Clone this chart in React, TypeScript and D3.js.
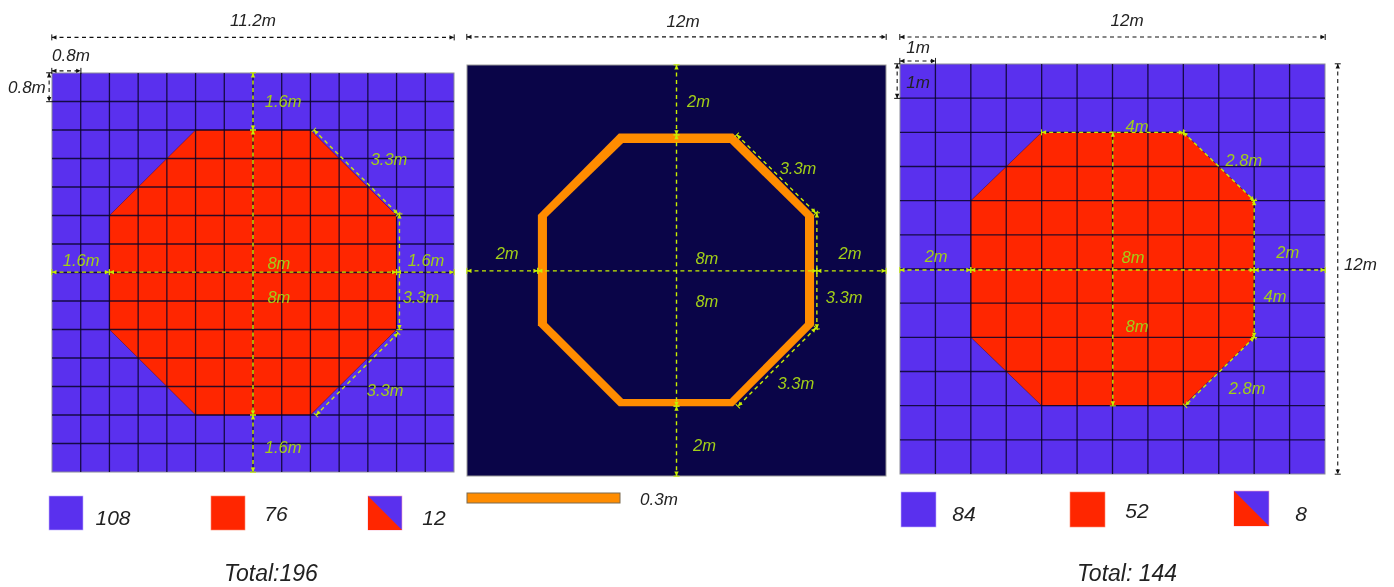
import React from "react";
import * as d3 from "d3";

type Pt = [number, number];
type Dim = [number, number, number, number];
type Label = [string, number, number];

const octagonA: Pt[] = [[4, 1.6], [7.2, 1.6], [9.6, 4], [9.6, 7.2], [7.2, 9.6], [4, 9.6], [1.6, 7.2], [1.6, 4]];
const ringOuterB: Pt[] = [[4.35, 2], [7.62, 2], [9.94, 4.38], [9.94, 7.6], [7.62, 9.96], [4.35, 9.96], [2.03, 7.6], [2.03, 4.38]];
const ringInnerB: Pt[] = [[4.47, 2.28], [7.53, 2.28], [9.68, 4.44], [9.68, 7.53], [7.53, 9.75], [4.47, 9.75], [2.29, 7.53], [2.29, 4.44]];
const octagonC: Pt[] = [[4, 2], [8, 2], [10, 4], [10, 8], [8, 10], [4, 10], [2, 8], [2, 4]];

const greenDimsA: Dim[] = [
  [5.6, 0, 5.6, 1.6], [5.6, 1.6, 5.6, 9.6], [5.6, 9.6, 5.6, 11.2],
  [0, 5.59, 1.6, 5.59], [1.6, 5.59, 9.6, 5.59], [9.6, 5.59, 11.2, 5.59],
  [7.3, 1.6, 9.64, 3.96], [9.68, 3.96, 9.68, 7.2], [9.64, 7.3, 7.36, 9.6],
];
const greenLabelsA: Label[] = [
  ["1.6m", 6.44, 0.79], ["8m", 6.32, 5.33], ["8m", 6.32, 6.29], ["1.6m", 6.44, 10.5],
  ["1.6m", 0.81, 5.25], ["1.6m", 10.42, 5.25], ["3.3m", 9.39, 2.41], ["3.3m", 10.28, 6.29], ["3.3m", 9.28, 8.9],
];
const blackDimsA: Dim[] = [[0, -1, 11.2, -1], [0, -0.06, 0.8, -0.06], [-0.08, 0, -0.08, 0.8]];
const blackLabelsA: Label[] = [["11.2m", 5.6, -1.46], ["0.8m", 0.53, -0.48], ["0.8m", -0.7, 0.42]];

const greenDimsB: Dim[] = [
  [6, 0, 6, 2.04], [6, 2.04, 6, 9.96], [6, 9.96, 6, 12],
  [0, 6.01, 2.03, 6.01], [2.03, 6.01, 10.02, 6.01], [10.02, 6.01, 12, 6.01],
  [7.73, 2.04, 9.99, 4.32], [10.02, 4.32, 10.02, 7.7], [9.99, 7.68, 7.76, 9.96],
];
const greenLabelsB: Label[] = [
  ["2m", 6.63, 1.05], ["2m", 6.8, 11.1], ["2m", 1.15, 5.48], ["2m", 10.97, 5.48], ["8m", 6.87, 5.64],
  ["8m", 6.87, 6.89], ["3.3m", 9.48, 3.0], ["3.3m", 10.8, 6.77], ["3.3m", 9.42, 9.28],
];
const blackDimsB: Dim[] = [[0, -0.82, 12, -0.82]];
const blackLabelsB: Label[] = [["12m", 6.19, -1.28]];

const greenDimsC: Dim[] = [
  [4, 2, 8, 2], [8, 2, 10, 4], [10, 4, 10, 8], [10, 8, 8.05, 10],
  [6.01, 2, 6.01, 10], [0, 6.03, 2, 6.03], [2, 6.03, 10, 6.03], [10, 6.03, 12, 6.03],
];
const greenLabelsC: Label[] = [
  ["4m", 6.69, 1.8], ["2.8m", 9.71, 2.81], ["4m", 10.59, 6.79], ["2.8m", 9.8, 9.48],
  ["8m", 6.58, 5.65], ["8m", 6.69, 7.67], ["2m", 1.02, 5.62], ["2m", 10.95, 5.5],
];
const blackDimsC: Dim[] = [[0, -0.79, 12, -0.79], [0, -0.09, 1, -0.09], [-0.08, 0, -0.08, 1], [12.36, 0, 12.36, 12]];
const blackLabelsC: Label[] = [["12m", 6.41, -1.26], ["1m", 0.51, -0.47], ["1m", 0.51, 0.53], ["12m", 13.0, 5.88]];

const legendCountsA = [108, 76, 12];
const legendCountsC = [84, 52, 8];
const totalA = "Total:196";
const totalC = "Total: 144";
const ringLegend = "0.3m";

const BLUE = "#5a30ee";
const RED = "#ff2600";
const NAVY = "#0a0548";
const ORANGE = "#ff8c00";
const DIM_GREEN = "#c8f000";
const TEXT_GREEN = "#a2cf18";
const INK = "#222";
const FONT = "'Liberation Sans', Arial, sans-serif";

function makeScales(extent: number, x0: number, x1: number, y0: number, y1: number) {
  return {
    x: d3.scaleLinear().domain([0, extent]).range([x0, x1]),
    y: d3.scaleLinear().domain([0, extent]).range([y0, y1]),
  };
}
type Scales = ReturnType<typeof makeScales>;

const pathOf = (s: Scales, pts: Pt[]) =>
  d3.line<Pt>().x((d) => s.x(d[0])).y((d) => s.y(d[1])).curve(d3.curveLinearClosed)(pts) as string;

function Dims({ s, dims, color, marker, dash, w }: { s: Scales; dims: Dim[]; color: string; marker: string; dash: string; w: number }) {
  return (
    <g>
      {dims.map((d, i) => (
        <line key={i} x1={s.x(d[0])} y1={s.y(d[1])} x2={s.x(d[2])} y2={s.y(d[3])} stroke={color} strokeWidth={w}
          strokeDasharray={dash} markerStart={`url(#${marker})`} markerEnd={`url(#${marker})`} />
      ))}
    </g>
  );
}

function Labels({ s, labels, color, size }: { s: Scales; labels: Label[]; color: string; size: number }) {
  return (
    <g>
      {labels.map((l, i) => (
        <text key={i} x={s.x(l[1])} y={s.y(l[2])} fill={color} fontSize={size} fontStyle="italic" fontFamily={FONT}
          textAnchor="middle" dominantBaseline="central">{l[0]}</text>
      ))}
    </g>
  );
}

function GridPanel({ s, cells, extent, octagon }: { s: Scales; cells: number; extent: number; octagon: Pt[] }) {
  const lines = d3.range(cells + 1).map((i) => (i * extent) / cells);
  return (
    <g>
      <rect x={s.x(0)} y={s.y(0)} width={s.x(extent) - s.x(0)} height={s.y(extent) - s.y(0)} fill={BLUE} stroke="#8a8a9a" strokeWidth={1} />
      <path d={pathOf(s, octagon)} fill={RED} stroke="#1a0418" strokeOpacity={0.6} strokeWidth={0.6} />
      {lines.slice(1, -1).map((v) => (
        <g key={v}>
          <line x1={s.x(v)} x2={s.x(v)} y1={s.y(0)} y2={s.y(extent)} stroke="#0a0428" strokeWidth={1.3} opacity={0.85} />
          <line x1={s.x(0)} x2={s.x(extent)} y1={s.y(v)} y2={s.y(v)} stroke="#0a0428" strokeWidth={1.3} opacity={0.85} />
        </g>
      ))}
    </g>
  );
}

function Swatch({ x, y, size, kind }: { x: number; y: number; size: number; kind: number }) {
  if (kind === 2) {
    return (
      <g>
        <rect x={x} y={y} width={size} height={size} fill={BLUE} stroke="#f4a0c8" strokeWidth={0.6} />
        <path d={`M${x},${y}L${x + size},${y + size}L${x},${y + size}Z`} fill={RED} />
      </g>
    );
  }
  return <rect x={x} y={y} width={size} height={size} fill={kind === 0 ? BLUE : RED} stroke={kind === 0 ? "#c0b0ff" : "#ff8a70"} strokeWidth={0.6} />;
}

function Legend({ counts, boxes, texts }: { counts: number[]; boxes: [number, number, number][]; texts: Pt[] }) {
  return (
    <g>
      {counts.map((c, i) => (
        <g key={i}>
          <Swatch x={boxes[i][0]} y={boxes[i][1]} size={boxes[i][2]} kind={i} />
          <text x={texts[i][0]} y={texts[i][1]} fill={INK} fontSize={21} fontStyle="italic" fontFamily={FONT}
            textAnchor="middle" dominantBaseline="central">{c}</text>
        </g>
      ))}
    </g>
  );
}

function Arrow({ id, color }: { id: string; color: string }) {
  return (
    <marker id={id} viewBox="-0.5 -0.5 7 7" refX="5.5" refY="3" markerWidth="7" markerHeight="7" markerUnits="userSpaceOnUse" orient="auto-start-reverse">
      <path d="M5.7,0V6" stroke={color} strokeWidth={1} fill="none" />
      <path d="M5.5,3L1,0.8V5.2Z" fill={color} />
    </marker>
  );
}

export default function App() {
  const a = makeScales(11.2, 52, 454, 73, 472);
  const b = makeScales(12, 467, 886, 65, 476);
  const c = makeScales(12, 900, 1325, 64, 474);
  const GD = "4 3.5";
  const LS = 16.5;
  const total = (t: string, x: number) => (
    <text x={x} y={573} fill={INK} fontSize={23} fontStyle="italic" fontFamily={FONT} textAnchor="middle" dominantBaseline="central">{t}</text>
  );
  return (
    <svg width={1394} height={587} style={{ position: "absolute", left: 0, top: 0, background: "#fff" }}>
      <defs>
        <Arrow id="ga" color={DIM_GREEN} />
        <Arrow id="ka" color="#111" />
        <filter id="soft" x="0" y="0" width="100%" height="100%" colorInterpolationFilters="sRGB"><feGaussianBlur stdDeviation="0.55" /></filter>
      </defs>
      <g filter="url(#soft)">
        <GridPanel s={a} cells={14} extent={11.2} octagon={octagonA} />
        <Dims s={a} dims={greenDimsA} color={DIM_GREEN} marker="ga" dash={GD} w={1.4} />
        <Labels s={a} labels={greenLabelsA} color={TEXT_GREEN} size={LS} />
        <Dims s={a} dims={blackDimsA} color="#111" marker="ka" dash={GD} w={1.1} />
        <Labels s={a} labels={blackLabelsA} color={INK} size={17} />
        <Legend counts={legendCountsA} boxes={[[49, 496, 34], [211, 496, 34], [368, 496, 34]]} texts={[[113, 517], [276, 513], [434, 517]]} />
        {total(totalA, 271)}

        <rect x={b.x(0)} y={b.y(0)} width={b.x(12) - b.x(0)} height={b.y(12) - b.y(0)} fill={NAVY} stroke="#999" strokeWidth={1} />
        <path d={pathOf(b, ringOuterB)} fill={ORANGE} />
        <path d={pathOf(b, ringInnerB)} fill={NAVY} />
        <Dims s={b} dims={greenDimsB} color={DIM_GREEN} marker="ga" dash={GD} w={1.4} />
        <Labels s={b} labels={greenLabelsB} color={TEXT_GREEN} size={LS} />
        <Dims s={b} dims={blackDimsB} color="#111" marker="ka" dash={GD} w={1.1} />
        <Labels s={b} labels={blackLabelsB} color={INK} size={17} />
        <rect x={467} y={493} width={153} height={10} fill={ORANGE} stroke="#7a6a50" strokeWidth={1} />
        <text x={659} y={499} fill={INK} fontSize={17} fontStyle="italic" fontFamily={FONT} textAnchor="middle" dominantBaseline="central">{ringLegend}</text>

        <GridPanel s={c} cells={12} extent={12} octagon={octagonC} />
        <Dims s={c} dims={greenDimsC} color={DIM_GREEN} marker="ga" dash={GD} w={1.4} />
        <Labels s={c} labels={greenLabelsC} color={TEXT_GREEN} size={LS} />
        <Dims s={c} dims={blackDimsC} color="#111" marker="ka" dash={GD} w={1.1} />
        <Labels s={c} labels={blackLabelsC} color={INK} size={17} />
        <Legend counts={legendCountsC} boxes={[[901, 492, 35], [1070, 492, 35], [1234, 491, 35]]} texts={[[964, 513], [1137, 510], [1301, 513]]} />
        {total(totalC, 1127)}
      </g>
    </svg>
  );
}
